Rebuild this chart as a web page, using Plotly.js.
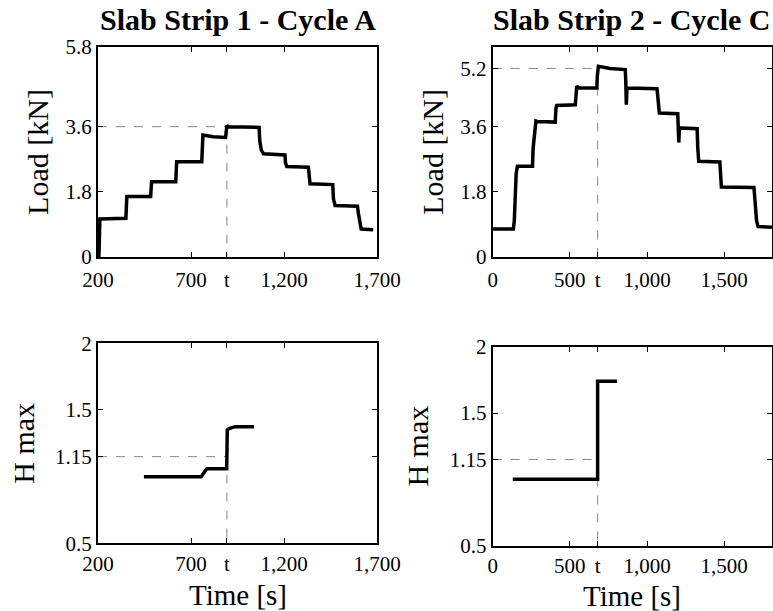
<!DOCTYPE html>
<html><head><meta charset="utf-8">
<script src="https://cdn.plot.ly/plotly-3.0.1.min.js"></script>
<style>html,body{margin:0;padding:0;background:#fff}#p{width:773px;height:611px}</style>
</head><body><div id="p"></div>
<script>
// Slab Strip 1 - Cycle A : load history
const timeA = [205,207,210,350,352,355,483,485,488,618,620,623,758,761,764,820,886,889,893,900,1000,1066,1070,1078,1090,1205,1208,1215,1331,1334,1340,1462,1466,1475,1595,1600,1608,1615,1680];
const loadA = [0,0.6,1.05,1.07,1.4,1.67,1.67,1.95,2.08,2.08,2.4,2.63,2.63,3.1,3.37,3.32,3.3,3.45,3.63,3.6,3.6,3.58,3.2,2.95,2.85,2.82,2.6,2.5,2.48,2.2,2.02,2.0,1.6,1.42,1.4,1.2,0.9,0.77,0.75];
// Slab Strip 2 - Cycle C : load history
const timeC = [0,134,140,145,152,160,258,262,270,280,290,405,410,415,535,540,545,560,675,678,685,760,859,862,866,870,875,1065,1070,1080,1199,1202,1206,1210,1325,1329,1335,1472,1476,1482,1693,1700,1710,1720,1810];
const loadC = [0.77,0.77,1.0,1.6,2.3,2.5,2.5,3.0,3.3,3.75,3.74,3.72,4.1,4.18,4.2,4.5,4.71,4.66,4.66,5.0,5.26,5.2,5.17,4.9,4.2,4.64,4.66,4.64,4.3,3.97,3.95,3.6,3.16,3.56,3.54,3.0,2.64,2.62,2.3,1.93,1.92,1.5,1.0,0.84,0.82];
// H max histories
const timeHA = [447,755,765,785,892,895,905,937,1039];
const hA = [1.0,1.0,1.02,1.06,1.06,1.35,1.36,1.375,1.375];
const timeHC = [130,680,680,805];
const hC = [1.0,1.0,1.74,1.74];
// reference marks
const tRefA = 893, tRefC = 680;
const loadRefA = 3.6, loadRefC = 5.2, hRef = 1.15;
// tick labels
const xTickValsA = [200,700,tRefA,1200,1700];
const xTickTextA = ["200","700","t","1,200","1,700"];
const xTickValsC = [0,500,tRefC,1000,1500];
const xTickTextC = ["0","500","t","1,000","1,500"];
const yTickValsLoadA = [0,1.8,3.6,5.8];
const yTickValsLoadC = [0,1.8,3.6,5.2];
const yTickValsH = [0.5,1.15,1.5,2];
const titles = ["Slab Strip 1 - Cycle A","Slab Strip 2 - Cycle C"];
const xTitle = "Time [s]";

const font = "'Liberation Serif', 'Times New Roman', Times, serif";
const dataLine = {color:"#000", width:3.5};
const refLine = {color:"#888", width:1, dash:"dash"};
function ln(x,y,xa,ya,line){return {x:x,y:y,xaxis:xa,yaxis:ya,mode:"lines",line:line,hoverinfo:"skip",showlegend:false};}

const traces = [
  ln([200,tRefA],[loadRefA,loadRefA],"x","y",refLine),
  ln([tRefA,tRefA],[loadRefA,0],"x","y",refLine),
  ln(timeA,loadA,"x","y",dataLine),
  ln([0,tRefC],[loadRefC,loadRefC],"x2","y2",refLine),
  ln([tRefC,tRefC],[loadRefC,0],"x2","y2",refLine),
  ln(timeC,loadC,"x2","y2",dataLine),
  ln([200,tRefA],[hRef,hRef],"x3","y3",refLine),
  ln([tRefA,tRefA],[hRef,0.5],"x3","y3",refLine),
  ln(timeHA,hA,"x3","y3",dataLine),
  ln([0,tRefC],[hRef,hRef],"x4","y4",refLine),
  ln([tRefC,tRefC],[hRef,0.5],"x4","y4",refLine),
  ln(timeHC,hC,"x4","y4",dataLine)
];

const W=773,H=611;
const L1=98,R1=377,L2=492.7,R2=772;
function dx(a,b){return [a/W,b/W];}
function dy(top,bot){return [1-bot/H,1-top/H];}
const base = {showline:true,linecolor:"#000",linewidth:2,mirror:"allticks",ticks:"inside",ticklen:5,tickwidth:1,tickcolor:"#000",showgrid:false,zeroline:false,tickmode:"array",tickfont:{family:font,size:21,color:"#000"},automargin:false,fixedrange:true};
function ax(o){return Object.assign({},base,o);}
const tf = {family:font,size:30,color:"#000"};
const xtf = {family:font,size:29,color:"#000"};

const layout = {
  width:W,height:H,margin:{l:0,r:0,t:0,b:0},paper_bgcolor:"#fff",plot_bgcolor:"#fff",showlegend:false,
  font:{family:font,color:"#000"},
  xaxis: ax({domain:dx(L1,R1),anchor:"y",range:[200,1700],tickvals:xTickValsA,ticktext:xTickTextA,ticklabelstandoff:3}),
  yaxis: ax({domain:dy(47,257),anchor:"x",range:[0,5.8],tickvals:yTickValsLoadA,ticktext:yTickValsLoadA.map(String),title:{text:"Load [kN]",font:tf,standoff:8}}),
  xaxis2: ax({domain:dx(L2,R2),anchor:"y2",range:[0,1810],tickvals:xTickValsC,ticktext:xTickTextC,ticklabelstandoff:3}),
  yaxis2: ax({domain:dy(46.7,257),anchor:"x2",range:[0,5.8],tickvals:yTickValsLoadC,ticktext:yTickValsLoadC.map(String),title:{text:"Load [kN]",font:tf,standoff:8}}),
  xaxis3: ax({domain:dx(L1,R1),anchor:"y3",range:[200,1700],tickvals:xTickValsA,ticktext:xTickTextA}),
  yaxis3: ax({domain:dy(343.3,543.3),anchor:"x3",range:[0.5,2],tickvals:yTickValsH,ticktext:yTickValsH.map(String),title:{text:"H max",font:tf,standoff:12}}),
  xaxis4: ax({domain:dx(L2,R2),anchor:"y4",range:[0,1810],tickvals:xTickValsC,ticktext:xTickTextC}),
  yaxis4: ax({domain:dy(346.7,545.7),anchor:"x4",range:[0.5,2],tickvals:yTickValsH,ticktext:yTickValsH.map(String),title:{text:"H max",font:tf,standoff:12}}),
  annotations:[
    {text:"<b>"+titles[0]+"</b>",xref:"paper",yref:"paper",x:(L1+R1)/2/W,y:1-47/H,xanchor:"center",yanchor:"bottom",yshift:9,showarrow:false,font:{family:font,size:30,color:"#000"}},
    {text:"<b>"+titles[1]+"</b>",xref:"paper",yref:"paper",x:(L2+R2)/2/W,y:1-46.7/H,xanchor:"center",yanchor:"bottom",yshift:9,showarrow:false,font:{family:font,size:30,color:"#000"}},
    {text:xTitle,xref:"paper",yref:"paper",x:(L1+R1)/2/W,y:1-595/H,xanchor:"center",yanchor:"middle",showarrow:false,font:xtf,borderpad:0},
    {text:xTitle,xref:"paper",yref:"paper",x:(L2+R2)/2/W,y:1-596/H,xanchor:"center",yanchor:"middle",showarrow:false,font:xtf,borderpad:0}
  ]
};
Plotly.newPlot("p",traces,layout,{displayModeBar:false,staticPlot:true});
</script></body></html>
